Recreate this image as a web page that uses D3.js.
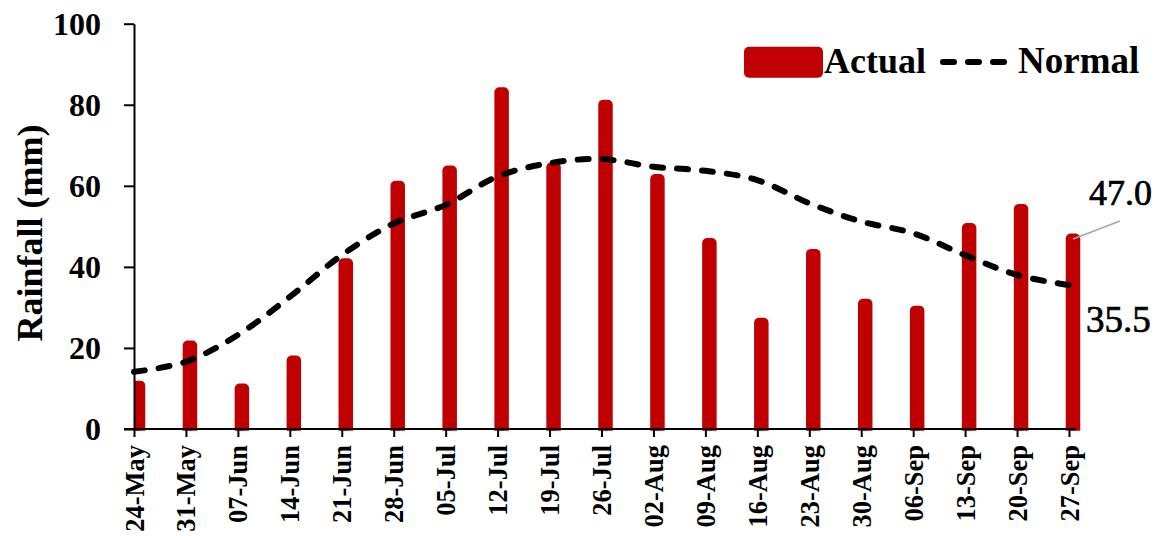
<!DOCTYPE html>
<html>
<head>
<meta charset="utf-8">
<script src="https://cdn.jsdelivr.net/npm/d3@7"></script>
<style>
  html, body { margin: 0; padding: 0; background: #fff; }
  svg { display: block; }
  text { font-family: "Liberation Serif", "DejaVu Serif", serif; font-weight: bold; fill: #000; }
  text.value-label { font-weight: normal; stroke: #000; stroke-width: 0.7px; }
</style>
</head>
<body>
<svg id="chart" width="1155" height="536"></svg>
<script>
// Weekly rainfall, 24 May – 27 Sep
const weeks = ["24-May","31-May","07-Jun","14-Jun","21-Jun","28-Jun","05-Jul","12-Jul","19-Jul","26-Jul",
               "02-Aug","09-Aug","16-Aug","23-Aug","30-Aug","06-Sep","13-Sep","20-Sep","27-Sep"];
const actual = [10.7, 20.6, 10.0, 16.9, 40.9, 60.0, 63.8, 83.1, 64.6, 80.0,
                61.7, 45.9, 26.2, 43.2, 30.9, 29.2, 49.6, 54.3, 47.0];
const normal = [14.1, 16.6, 23.2, 32.6, 42.9, 50.7, 55.3, 62.3, 65.6, 66.6,
                64.7, 63.7, 61.4, 55.7, 51.2, 48.3, 42.9, 38.0, 35.5];
const yTicks = [0, 20, 40, 60, 80, 100];

const svg = d3.select("#chart");
const red = "#c00000";

const x = d3.scalePoint().domain(weeks).range([134, 1069]);
const y = d3.scaleLinear().domain([0, 100]).range([429, 23.7]);

// plot-area clip for the bars
svg.append("defs").append("clipPath").attr("id", "plotClip")
  .append("rect").attr("x", 134).attr("y", 0).attr("width", 960).attr("height", 430.7);

// Actual: narrow columns with a rounded outline, shifted slightly right of each tick
const barCore = 4.5, barStroke = 10, barShift = 4;
svg.append("g").attr("clip-path", "url(#plotClip)")
  .selectAll("rect").data(actual).join("rect")
  .attr("x", (d, i) => x(weeks[i]) + barShift - barCore / 2)
  .attr("y", d => y(d))
  .attr("width", barCore)
  .attr("height", d => y(0) - y(d) + 8)
  .attr("fill", red)
  .attr("stroke", red)
  .attr("stroke-width", barStroke)
  .attr("stroke-linejoin", "round");

// Normal: smoothed dashed line
const line = d3.line()
  .x((d, i) => x(weeks[i]))
  .y(d => y(d))
  .curve(d3.curveCatmullRom.alpha(0.5));
svg.append("path").datum(normal)
  .attr("d", line)
  .attr("fill", "none")
  .attr("stroke", "#000")
  .attr("stroke-width", 6)
  .attr("stroke-linecap", "round")
  .attr("stroke-dasharray", "11 14");

// Y axis
const yAxis = svg.append("g").attr("transform", "translate(134,0)")
  .call(d3.axisLeft(y).tickValues(yTicks).tickFormat(d3.format("d"))
    .tickSize(10).tickSizeOuter(0).tickPadding(23));
yAxis.select(".domain").attr("stroke", "#000").attr("stroke-width", 2);
yAxis.selectAll(".tick line").attr("stroke", "#000").attr("stroke-width", 2);
yAxis.selectAll(".tick text")
  .attr("font-size", 32).attr("font-family", null).attr("dy", "0.34em");

// X axis
const xAxis = svg.append("g").attr("transform", "translate(0,429)")
  .call(d3.axisBottom(x).tickSize(8).tickSizeOuter(0).tickFormat(""));
xAxis.select(".domain").remove();
xAxis.selectAll(".tick line").attr("stroke", "#000").attr("stroke-width", 2);
svg.append("line")
  .attr("x1", 124).attr("x2", 1076).attr("y1", y(0)).attr("y2", y(0))
  .attr("stroke", "#000").attr("stroke-width", 2);

svg.append("g").selectAll("text").data(weeks).join("text")
  .attr("transform", d => `translate(${x(d) + 9.5},445) rotate(-90)`)
  .attr("text-anchor", "end")
  .attr("font-size", 26.5)
  .text(d => d);

// Axis title
svg.append("text")
  .attr("transform", "translate(42,233) rotate(-90)")
  .attr("text-anchor", "middle")
  .attr("font-size", 36)
  .text("Rainfall (mm)");

// Value labels for the final week
const last = weeks.length - 1;
const lx = x(weeks[last]) + barShift;
svg.append("line")
  .attr("x1", lx).attr("y1", y(actual[last]) + 0.5)
  .attr("x2", 1120).attr("y2", 221)
  .attr("stroke", "#a6a6a6").attr("stroke-width", 1.5);
svg.append("text").attr("class", "value-label")
  .attr("x", 1089).attr("y", 205)
  .attr("font-size", 36)
  .text(d3.format(".1f")(actual[last]));
svg.append("text").attr("class", "value-label")
  .attr("x", 1086).attr("y", 332)
  .attr("font-size", 37)
  .text(d3.format(".1f")(normal[last]));

// Legend
const legend = svg.append("g");
legend.append("rect")
  .attr("x", 744).attr("y", 46.7).attr("width", 79).attr("height", 31).attr("rx", 5)
  .attr("fill", red);
legend.append("text").attr("x", 824).attr("y", 73).attr("font-size", 36).text("Actual");
legend.append("line")
  .attr("x1", 943).attr("x2", 1005).attr("y1", 62).attr("y2", 62)
  .attr("stroke", "#000").attr("stroke-width", 6)
  .attr("stroke-linecap", "round").attr("stroke-dasharray", "11 14");
legend.append("text").attr("x", 1018).attr("y", 73).attr("font-size", 37).text("Normal");
</script>
</body>
</html>
